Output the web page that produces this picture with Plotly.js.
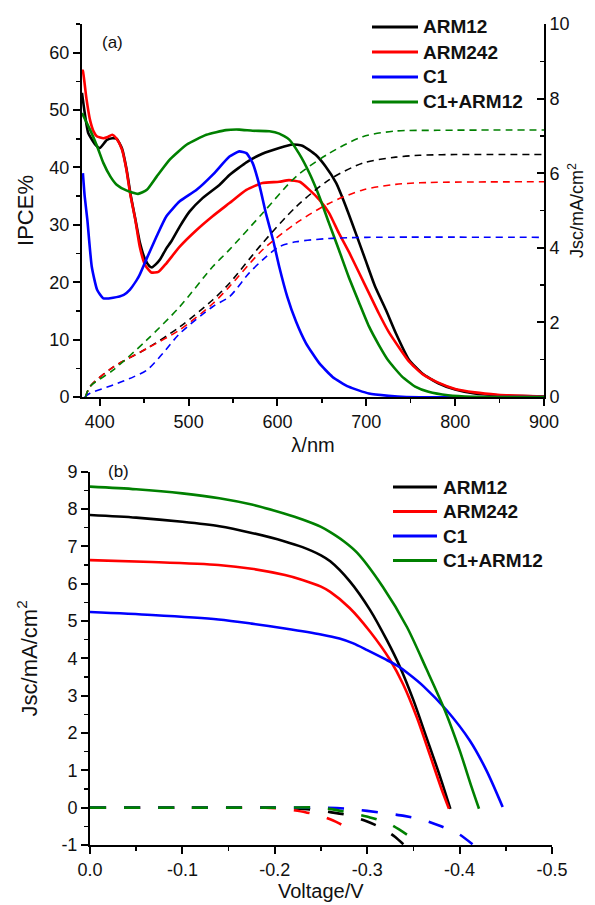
<!DOCTYPE html>
<html><head><meta charset="utf-8">
<script src="https://cdn.plot.ly/plotly-3.0.1.min.js"></script>
<style>html,body{margin:0;padding:0;background:#fff}#chart{width:595px;height:905px}</style>
</head><body><div id="chart"></div>
<script>
const seriesNames = ['ARM12', 'ARM242', 'C1', 'C1+ARM12'];
const seriesColors = ['#000000', '#ff0000', '#0000ff', '#008000'];

// ---- Panel (a): IPCE (%) vs wavelength (nm) ----
const ipceArm12X = [380,381,387,395,400,408,414,419,425,430,435,440,445,451,456,459,463,468,475,480,490,501,516,535,546,557,565,583,602,617,628,643,654,666,677,688,699,710,722,733,748,763,781,800,822,848,875,900];
const ipceArm12Y = [53,51.8,46,44,43.4,44.8,45.1,45.0,43.3,39.8,35,31,27,24,22.8,22.6,23.1,24,25.9,27,29.7,32.3,34.7,37.0,38.7,40.0,40.9,42.4,43.4,44.0,43.8,42.2,40.2,37.3,33.2,28.6,23.9,19.2,15.2,11.2,6.5,4.1,2.4,1.3,0.6,0.3,0.15,0.1];
const ipceArm242X = [380,381,385,389,393,397,404,409,414,419,425,430,434,440,445,451,458,466,475,490,509,527,546,565,583,602,613,625,636,647,658,669,681,692,703,714,725,737,748,763,781,800,822,848,875,900];
const ipceArm242Y = [57,56.8,52,48.3,46.3,45.4,45.1,45.3,45.7,45.0,43.1,39.6,35.6,30.9,26.2,23.0,21.7,21.8,23.3,26.2,29.1,31.5,33.8,36.1,37.3,37.5,37.8,37.5,36.1,34.4,32.1,28.6,25.1,21.6,18.1,14.6,11.4,8.6,6.2,4.0,2.5,1.4,0.8,0.4,0.2,0.1];
const ipceC1X = [381,383,386,391,397,404,415,427,434,444,453,464,475,490,509,527,546,557,565,572,580,587,595,602,611,621,632,647,662,680,703,725,745,900];
const ipceC1Y = [39,35,30.9,22.7,18.7,17.2,17.3,17.8,18.7,21,24.2,28,31.5,34.1,36.1,38.7,41.9,42.8,42.5,40.8,36.7,32,27.4,22.7,17.5,13.1,9.4,5.9,3.5,1.8,0.6,0.2,0,0];
const ipceMixX = [380,389,397,404,412,419,430,443,453,464,479,498,520,542,557,572,591,602,613,624,636,647,658,669,680,692,703,714,725,740,755,770,792,820,900];
const ipceMixY = [49.5,46.6,43.7,40.8,38.4,37,36,35.4,36.1,38.4,41.4,44,45.7,46.5,46.6,46.4,46.3,45.9,44.9,42.5,39.0,35.0,30.3,25.7,21.0,16.4,12.3,9.1,6.3,3.6,1.8,0.9,0.3,0.05,0];

// ---- Panel (a): integrated Jsc (mA/cm2, right axis) ----
const jscIntArm12X = [384,389,415,453,490,527,546,583,621,658,696,733,760,800,900];
const jscIntArm12Y = [0,0.28,0.8,1.3,1.88,2.6,3.05,4.12,5.1,5.82,6.27,6.43,6.48,6.5,6.5];
const jscIntArm242X = [384,389,415,453,490,527,546,583,621,658,696,733,770,900];
const jscIntArm242Y = [0,0.28,0.8,1.3,1.8,2.5,2.96,3.94,4.66,5.19,5.55,5.7,5.75,5.77];
const jscIntC1X = [383,389,415,438,453,471,490,527,546,568,583,602,621,658,700,900];
const jscIntC1Y = [0,0.1,0.32,0.54,0.72,1.17,1.7,2.42,2.69,3.32,3.67,4.03,4.16,4.25,4.28,4.28];
const jscIntMixX = [384,389,415,453,490,527,546,583,621,658,696,733,780,900];
const jscIntMixY = [0,0.28,0.72,1.53,2.42,3.49,3.95,4.92,5.91,6.53,6.98,7.13,7.15,7.16];

// ---- Panel (b): J-V curves under light ----
const jvArm12V = [0,-0.05,-0.1,-0.14,-0.175,-0.21,-0.23,-0.25,-0.26,-0.281,-0.303,-0.321,-0.3355,-0.35,-0.364,-0.379,-0.390];
const jvArm12J = [7.84,7.77,7.66,7.54,7.36,7.14,6.98,6.76,6.6,6.07,5.30,4.50,3.77,2.88,1.89,0.82,-0.03];
const jvArm242V = [0,-0.067,-0.139,-0.175,-0.211,-0.23,-0.25,-0.26,-0.281,-0.303,-0.325,-0.339,-0.354,-0.368,-0.381,-0.3885];
const jvArm242J = [6.63,6.58,6.5,6.4,6.23,6.1,5.92,5.78,5.35,4.72,3.95,3.3,2.4,1.4,0.46,-0.03];
const jvC1V = [0,-0.067,-0.139,-0.175,-0.211,-0.25,-0.27,-0.285,-0.30,-0.32,-0.332,-0.345,-0.361,-0.386,-0.411,-0.429,-0.4466];
const jvC1J = [5.24,5.16,5.04,4.93,4.80,4.64,4.53,4.40,4.22,3.97,3.81,3.58,3.25,2.61,1.8,1.0,0.02];
const jvMixV = [0,-0.05,-0.1,-0.14,-0.175,-0.21,-0.23,-0.25,-0.26,-0.275,-0.289,-0.317,-0.343,-0.364,-0.384,-0.400,-0.413,-0.421];
const jvMixJ = [8.6,8.53,8.42,8.29,8.12,7.88,7.72,7.52,7.38,7.13,6.83,5.91,4.84,3.72,2.61,1.54,0.55,-0.03];

// ---- Panel (b): dark curves ----
const darkArm12V = [0,-0.1,-0.2,-0.24,-0.26,-0.28,-0.30,-0.317,-0.33,-0.34];
const darkArm12J = [0,0,0,-0.05,-0.12,-0.2,-0.37,-0.56,-0.78,-1.0];
const darkArm242V = [0,-0.1,-0.19,-0.21,-0.233,-0.251,-0.268,-0.287];
const darkArm242J = [0,0,0,-0.03,-0.12,-0.23,-0.4,-0.66];
const darkC1V = [0,-0.1,-0.2,-0.25,-0.28,-0.32,-0.34,-0.36,-0.38,-0.40,-0.414];
const darkC1J = [0,0,0,0,-0.03,-0.15,-0.22,-0.32,-0.5,-0.72,-0.98];
const darkMixV = [0,-0.1,-0.2,-0.25,-0.27,-0.285,-0.303,-0.323,-0.343];
const darkMixJ = [0,0,0,0,-0.08,-0.16,-0.26,-0.42,-0.72];

// ---- Tick labels ----
const topXTicks = [400,500,600,700,800,900];
const topYTicks = [0,10,20,30,40,50,60];
const topY2Ticks = [0,2,4,6,8,10];
const voltTicks = [0,-0.1,-0.2,-0.3,-0.4,-0.5];
const voltTickText = ['0.0','-0.1','-0.2','-0.3','-0.4','-0.5'];
const jTicks = [-1,0,1,2,3,4,5,6,7,8,9];
const jTickText = ['-1','0','1','2','3','4','5','6','7','8','9'];

const ipceX = [ipceArm12X, ipceArm242X, ipceC1X, ipceMixX];
const ipceY = [ipceArm12Y, ipceArm242Y, ipceC1Y, ipceMixY];
const intX = [jscIntArm12X, jscIntArm242X, jscIntC1X, jscIntMixX];
const intY = [jscIntArm12Y, jscIntArm242Y, jscIntC1Y, jscIntMixY];
const jvV = [jvArm12V, jvArm242V, jvC1V, jvMixV];
const jvJ = [jvArm12J, jvArm242J, jvC1J, jvMixJ];
const dkV = [darkArm12V, darkArm242V, darkC1V, darkMixV];
const dkJ = [darkArm12J, darkArm242J, darkC1J, darkMixJ];

const traces = [];
for (let i = 0; i < 4; i++) {
  traces.push({x: intX[i], y: intY[i], xaxis: 'x', yaxis: 'y2', mode: 'lines', name: seriesNames[i] + ' Jsc',
    line: {color: seriesColors[i], width: 1.6, dash: '7px,5px', shape: 'spline', smoothing: 0.8}, showlegend: false, hoverinfo: 'skip'});
}
for (let i = 0; i < 4; i++) {
  traces.push({x: ipceX[i], y: ipceY[i], xaxis: 'x', yaxis: 'y', mode: 'lines', name: seriesNames[i],
    line: {color: seriesColors[i], width: 2.6, shape: 'spline', smoothing: 0.5}, showlegend: false});
}
for (let i = 0; i < 4; i++) {
  traces.push({x: dkV[i], y: dkJ[i], xaxis: 'x2', yaxis: 'y3', mode: 'lines', name: seriesNames[i] + ' dark',
    line: {color: seriesColors[i], width: 2.6, dash: '16px,18px', shape: 'spline', smoothing: 0.6}, showlegend: false});
}
for (let i = 0; i < 4; i++) {
  traces.push({x: jvV[i], y: jvJ[i], xaxis: 'x2', yaxis: 'y3', mode: 'lines', name: seriesNames[i],
    line: {color: seriesColors[i], width: 2.6, shape: 'spline', smoothing: 0.8}, showlegend: false});
}

const W = 595, H = 905;
const px = v => v / W;
const py = v => 1 - v / H;
const FONT = 'Arial, "Liberation Sans", Helvetica, sans-serif';
const tickFont = {family: FONT, size: 18, color: '#111'};

const commonAxis = {showline: true, linewidth: 2, linecolor: '#000', showgrid: false, zeroline: false,
  ticks: 'outside', ticklen: 7, tickwidth: 2, tickcolor: '#000', tickfont: tickFont};

const shapes = [];
const annotations = [];
function addLegend(x0, x1, tx, y0, dy) {
  for (let i = 0; i < 4; i++) {
    const y = y0 + i * dy;
    shapes.push({type: 'line', xref: 'paper', yref: 'paper', x0: px(x0), x1: px(x1), y0: py(y), y1: py(y),
      line: {color: seriesColors[i], width: 2.8}});
    annotations.push({xref: 'paper', yref: 'paper', x: px(tx), y: py(y), xanchor: 'left', yanchor: 'middle',
      text: seriesNames[i], showarrow: false, font: {family: FONT, size: 19, color: '#111', weight: 'bold'}});
  }
}
addLegend(372, 418, 421, 27, 25);
addLegend(393, 437, 441, 487, 24.5);
annotations.push({xref: 'paper', yref: 'paper', x: px(112), y: py(42), text: '(a)', showarrow: false,
  xanchor: 'center', yanchor: 'middle', font: {family: FONT, size: 17, color: '#111'}});
annotations.push({xref: 'paper', yref: 'paper', x: px(118), y: py(471), text: '(b)', showarrow: false,
  xanchor: 'center', yanchor: 'middle', font: {family: FONT, size: 17, color: '#111'}});
// bottom x-axis title, placed low near the bottom edge as in the reference
annotations.push({xref: 'paper', yref: 'paper', x: px(321), y: py(891), text: 'Voltage/V', showarrow: false,
  xanchor: 'center', yanchor: 'middle', font: {family: FONT, size: 20, color: '#111'}});

const layout = {
  width: W, height: H,
  margin: {l: 0, r: 0, t: 0, b: 0},
  paper_bgcolor: '#fff', plot_bgcolor: 'rgba(0,0,0,0)',
  font: {family: FONT, color: '#111'},
  showlegend: false,
  xaxis: Object.assign({}, commonAxis, {domain: [px(82), px(544)], anchor: 'y', range: [380, 900],
    tickmode: 'array', tickvals: topXTicks,
    minor: {dtick: 50, tick0: 0, ticks: 'outside', ticklen: 4, tickwidth: 1.5, tickcolor: '#000'},
    title: {text: 'λ/nm', font: {family: FONT, size: 20, color: '#111'}, standoff: 7}}),
  yaxis: Object.assign({}, commonAxis, {domain: [py(397), py(24)], anchor: 'x', range: [0, 65],
    tickmode: 'array', tickvals: topYTicks,
    minor: {dtick: 5, tick0: 0, ticks: 'outside', ticklen: 4, tickwidth: 1.5, tickcolor: '#000'},
    title: {text: 'IPCE%', font: {family: FONT, size: 22, color: '#111'}, standoff: 10}}),
  yaxis2: Object.assign({}, commonAxis, {overlaying: 'y', side: 'right', anchor: 'x', range: [0, 10],
    tickmode: 'array', tickvals: topY2Ticks, ticks: 'inside',
    minor: {dtick: 1, tick0: 0, ticks: 'inside', ticklen: 4, tickwidth: 1.5, tickcolor: '#000'},
    title: {text: 'Jsc/mA/cm<sup>2</sup>', font: {family: FONT, size: 18, color: '#111'}, standoff: 2}}),
  xaxis2: Object.assign({}, commonAxis, {domain: [px(90), px(552)], anchor: 'y3', range: [0, -0.5],
    tickmode: 'array', tickvals: voltTicks, ticktext: voltTickText,
    minor: {dtick: 0.05, tick0: 0, ticks: 'outside', ticklen: 4, tickwidth: 1.5, tickcolor: '#000'}}),
  yaxis3: Object.assign({}, commonAxis, {domain: [py(845), py(471.7)], anchor: 'x2', range: [-1, 9],
    tickmode: 'array', tickvals: jTicks, ticktext: jTickText,
    minor: {dtick: 0.5, tick0: 0, ticks: 'outside', ticklen: 4, tickwidth: 1.5, tickcolor: '#000'},
    title: {text: 'Jsc/mA/cm<sup>2</sup>', font: {family: FONT, size: 22, color: '#111'}, standoff: 18}}),
  shapes: shapes,
  annotations: annotations
};

Plotly.newPlot('chart', traces, layout, {displayModeBar: false, staticPlot: true});
</script>
</body></html>
